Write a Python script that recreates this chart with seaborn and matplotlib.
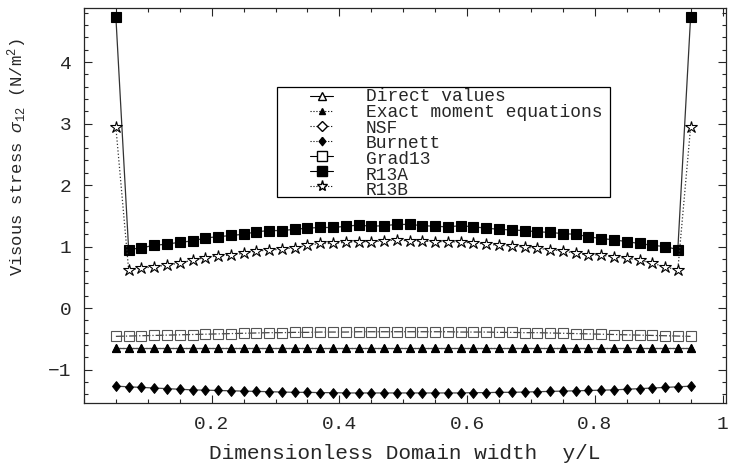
import numpy as np
import pandas as pd
import seaborn as sns
import matplotlib.pyplot as plt
from matplotlib.lines import Line2D
from matplotlib.patches import Rectangle
from matplotlib.ticker import MultipleLocator

# positions across the channel
y_over_L = [0.05, 0.07, 0.09, 0.11, 0.13, 0.15, 0.17, 0.19, 0.21, 0.23,
            0.25, 0.27, 0.29, 0.31, 0.33, 0.35, 0.37, 0.39, 0.41, 0.43,
            0.45, 0.47, 0.49, 0.51, 0.53, 0.55, 0.57, 0.59, 0.61, 0.63,
            0.65, 0.67, 0.69, 0.71, 0.73, 0.75, 0.77, 0.79, 0.81, 0.83,
            0.85, 0.87, 0.89, 0.91, 0.93, 0.95]

r13a = [4.73, 0.95, 0.98, 1.02, 1.04, 1.07, 1.09, 1.14, 1.16, 1.18,
        1.20, 1.24, 1.26, 1.26, 1.28, 1.30, 1.31, 1.31, 1.33, 1.35,
        1.33, 1.34, 1.36, 1.36, 1.34, 1.33, 1.32, 1.34, 1.32, 1.30,
        1.28, 1.27, 1.26, 1.24, 1.23, 1.21, 1.20, 1.16, 1.13, 1.11,
        1.08, 1.05, 1.02, 1.00, 0.95, 4.73]

r13b = [2.94, 0.62, 0.65, 0.67, 0.70, 0.73, 0.78, 0.82, 0.85, 0.86,
        0.89, 0.93, 0.94, 0.96, 0.98, 1.02, 1.05, 1.05, 1.07, 1.08,
        1.08, 1.09, 1.11, 1.09, 1.09, 1.08, 1.08, 1.07, 1.06, 1.04,
        1.02, 1.01, 0.99, 0.97, 0.95, 0.93, 0.89, 0.87, 0.86, 0.83,
        0.81, 0.78, 0.73, 0.67, 0.62, 2.94]

grad13 = [-0.46, -0.455, -0.45, -0.445, -0.44, -0.435, -0.43, -0.425, -0.42, -0.415,
          -0.41, -0.405, -0.40, -0.40, -0.395, -0.395, -0.39, -0.39, -0.39, -0.385,
          -0.385, -0.385, -0.385, -0.385, -0.385, -0.385, -0.385, -0.39, -0.39, -0.39,
          -0.395, -0.395, -0.40, -0.40, -0.405, -0.41, -0.415, -0.42, -0.425, -0.43,
          -0.435, -0.44, -0.445, -0.45, -0.455, -0.46]

exact = [-0.65] * 46
direct = [-0.65] * 46

burnett = [-1.27, -1.28, -1.29, -1.30, -1.31, -1.32, -1.33, -1.335, -1.34, -1.345,
           -1.35, -1.355, -1.36, -1.365, -1.37, -1.37, -1.375, -1.375, -1.38, -1.38,
           -1.38, -1.38, -1.38, -1.38, -1.38, -1.38, -1.38, -1.38, -1.375, -1.375,
           -1.37, -1.37, -1.365, -1.36, -1.355, -1.35, -1.345, -1.34, -1.335, -1.33,
           -1.32, -1.31, -1.30, -1.29, -1.28, -1.27]

labels = ["Direct values", "Exact moment equations", "NSF", "Burnett",
          "Grad13", "R13A", "R13B"]

sns.set_style("ticks")
plt.rcParams['font.family'] = ['Liberation Mono', 'DejaVu Sans']
plt.rcParams['mathtext.fontset'] = 'custom'
plt.rcParams['mathtext.rm'] = 'Liberation Mono'
plt.rcParams['mathtext.it'] = 'Liberation Mono:italic'

fig = plt.figure(figsize=(7.3, 4.66), dpi=100)
ax = fig.add_axes([0.115, 0.135, 0.88, 0.848])

df = pd.DataFrame({"y": y_over_L, "r13a": r13a, "r13b": r13b, "grad13": grad13,
                   "exact": exact, "direct": direct, "burnett": burnett})

diamond = [(0, 1), (0.8, 0), (0, -1), (-0.8, 0), (0, 1)]

styles = {
    "direct": dict(marker="^", ms=6, mfc="white", mec="black", ls="-", color="#444444"),
    "exact": dict(marker="^", ms=6, mfc="black", mec="black", ls=":", color="#444444"),
    "burnett": dict(marker=diamond, ms=7, mfc="black", mec="black", ls="-", color="#444444"),
    "grad13": dict(marker="s", ms=7, mfc="none", mec="#555555", ls="-.", color="#444444"),
    "r13a": dict(marker="s", ms=7.5, mfc="black", mec="black", ls="-", color="#333333"),
    "r13b": dict(marker="*", ms=9, mfc="white", mec="black", ls=":", color="#333333"),
}

for key, st in styles.items():
    sns.lineplot(data=df, x="y", y=key, ax=ax, lw=0.9, sort=False,
                 markeredgewidth=0.8, **st)

ax.set_xlim(0, 1.006)
ax.set_ylim(-1.545, 4.88)
ax.xaxis.set_minor_locator(MultipleLocator(0.05))
ax.yaxis.set_minor_locator(MultipleLocator(0.2))
ax.set_xticks([0.2, 0.4, 0.6, 0.8, 1.0])
ax.set_xticklabels(["0.2", "0.4", "0.6", "0.8", "1"])
ax.set_yticks([-1, 0, 1, 2, 3, 4])
ax.set_yticklabels(["\u22121", "0", "1", "2", "3", "4"])
ax.tick_params(which="both", direction="in", top=True, right=True, labelsize=14, width=0.8)
ax.tick_params(which="major", length=6, pad=9)
ax.tick_params(which="minor", length=3)
for s in ax.spines.values():
    s.set_linewidth(0.9)

ax.set_xlabel("Dimensionless Domain width  y/L", fontsize=15.2, labelpad=8)
ax.set_ylabel(r"Visous stress $\sigma_{12}$ (N/m$^2$)", fontsize=12.3)
ax.yaxis.set_label_coords(-0.085, 0.623)

# legend box, handles and labels
ax.add_patch(Rectangle((0.3006, 0.5215), 0.5184, 0.2785, transform=ax.transAxes,
                       facecolor="white", edgecolor="black", lw=0.9, zorder=4))
handles = [
    Line2D([], [], marker="^", ms=6, mfc="white", mec="black", ls="-", color="black", lw=0.8),
    Line2D([], [], marker="^", ms=5, mfc="black", mec="black", ls=":", color="black", lw=0.8),
    Line2D([], [], marker="D", ms=5, mfc="white", mec="black", ls=":", color="black", lw=0.8),
    Line2D([], [], marker=diamond, ms=6, mfc="black", mec="black", ls=":", color="black", lw=0.8),
    Line2D([], [], marker="s", ms=7, mfc="white", mec="black", ls="-", color="black", lw=0.8),
    Line2D([], [], marker="s", ms=7, mfc="black", mec="black", ls="-", color="black", lw=0.8),
    Line2D([], [], marker="*", ms=8, mfc="white", mec="black", ls=":", color="black", lw=0.8),
]
leg = ax.legend(handles, [""] * len(handles), loc="upper left",
                bbox_to_anchor=(0.352, 0.792), borderaxespad=0, borderpad=0,
                fontsize=10, frameon=False, handlelength=1.65,
                labelspacing=0.07, handletextpad=0)
leg.set_zorder(6)
ax.text(0.439, 0.797, "\n".join(labels), transform=ax.transAxes, ha="left", va="top",
        fontsize=12.9, linespacing=0.90, zorder=6)

fig.savefig("out.png", dpi=100)
